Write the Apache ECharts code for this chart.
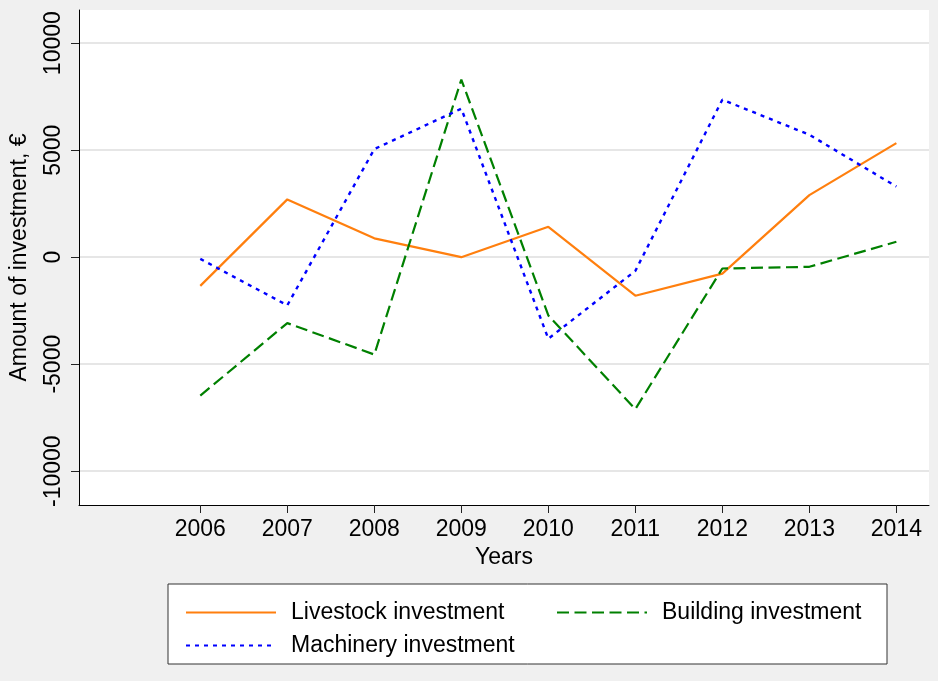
<!DOCTYPE html>
<html>
<head>
<meta charset="utf-8">
<script src="https://cdn.jsdelivr.net/npm/echarts@6/dist/echarts.min.js"></script>
<style>
html,body{margin:0;padding:0;background:#f0f0f0;}
#c{width:938px;height:681px;}
</style>
</head>
<body>
<div id="c"></div>
<script>
const years = [2006, 2007, 2008, 2009, 2010, 2011, 2012, 2013, 2014];
const livestock = [-1340, 2700, 880, 0, 1420, -1800, -770, 2900, 5330];
const building = [-6470, -3080, -4550, 8300, -2720, -7100, -530, -450, 720];
const machinery = [-80, -2250, 5050, 6940, -3810, -640, 7360, 5720, 3300];
const yTicks = [-10000, -5000, 0, 5000, 10000];
const seriesNames = ['Livestock investment', 'Building investment', 'Machinery investment'];

const FONT = 'Liberation Sans, Arial, sans-serif';
const chart = echarts.init(document.getElementById('c'), null, {renderer: 'canvas'});

function pairs(vals) { return years.map((y, i) => [y, vals[i]]); }
function plain(v) { return String(Math.round(v)); }

const legendCommon = {
  orient: 'horizontal',
  padding: 0,
  itemWidth: 90,
  itemHeight: 14,
  textStyle: {fontFamily: FONT, fontSize: 23, color: '#000', padding: [0, 0, 0, 10]},
  itemStyle: {color: 'rgba(0,0,0,0)', borderWidth: 0, opacity: 0},
  selectedMode: false
};

chart.setOption({
  backgroundColor: '#f0f0f0',
  animation: false,
  grid: {left: 79, right: 9, top: 10, bottom: 176, show: true, backgroundColor: '#ffffff', borderWidth: 0},
  graphic: [{
    type: 'rect', z: -1, silent: true,
    shape: {x: 168, y: 584, width: 719, height: 80},
    style: {fill: '#ffffff', stroke: '#333333', lineWidth: 1}
  }],
  legend: [
    Object.assign({}, legendCommon, {left: 185, top: 601, data: [seriesNames[0]]}),
    Object.assign({}, legendCommon, {left: 556, top: 601, data: [seriesNames[1]]}),
    Object.assign({}, legendCommon, {left: 185, top: 634, data: [seriesNames[2]]})
  ],
  xAxis: {
    type: 'value', min: 2004.606, max: 2014.375,
    name: 'Years', nameLocation: 'middle', nameGap: 38,
    nameTextStyle: {fontFamily: FONT, fontSize: 23, color: '#000'},
    axisLine: {show: true, onZero: false, lineStyle: {color: '#000', width: 1}},
    axisTick: {show: true, length: 8, lineStyle: {color: '#222'}, customValues: years},
    axisLabel: {fontFamily: FONT, fontSize: 23, color: '#000', margin: 13, customValues: years, formatter: plain},
    splitLine: {show: false}
  },
  yAxis: {
    type: 'value', min: -11580, max: 11550,
    name: 'Amount of investment, €', nameLocation: 'middle', nameGap: 48, nameRotate: 90,
    nameTextStyle: {fontFamily: FONT, fontSize: 23, color: '#000'},
    axisLine: {show: true, onZero: false, lineStyle: {color: '#000', width: 1}},
    axisTick: {show: true, length: 8, lineStyle: {color: '#222'}, customValues: yTicks},
    axisLabel: {fontFamily: FONT, fontSize: 23, color: '#000', margin: 14, rotate: 90, customValues: yTicks, formatter: plain},
    splitLine: {show: true, lineStyle: {color: '#e6e6e6', width: 2}}
  },
  series: [
    {name: seriesNames[0], type: 'line', data: pairs(livestock), symbol: 'none',
     lineStyle: {color: '#ff7f0e', width: 2.2, type: 'solid'}, itemStyle: {color: '#ff7f0e'}},
    {name: seriesNames[1], type: 'line', data: pairs(building), symbol: 'none',
     lineStyle: {color: '#008000', width: 2.2, type: [12, 5.5]}, itemStyle: {color: '#008000'}},
    {name: seriesNames[2], type: 'line', data: pairs(machinery), symbol: 'none',
     lineStyle: {color: '#0000ff', width: 2.4, type: [4, 5]}, itemStyle: {color: '#0000ff'}}
  ]
});
</script>
</body>
</html>
